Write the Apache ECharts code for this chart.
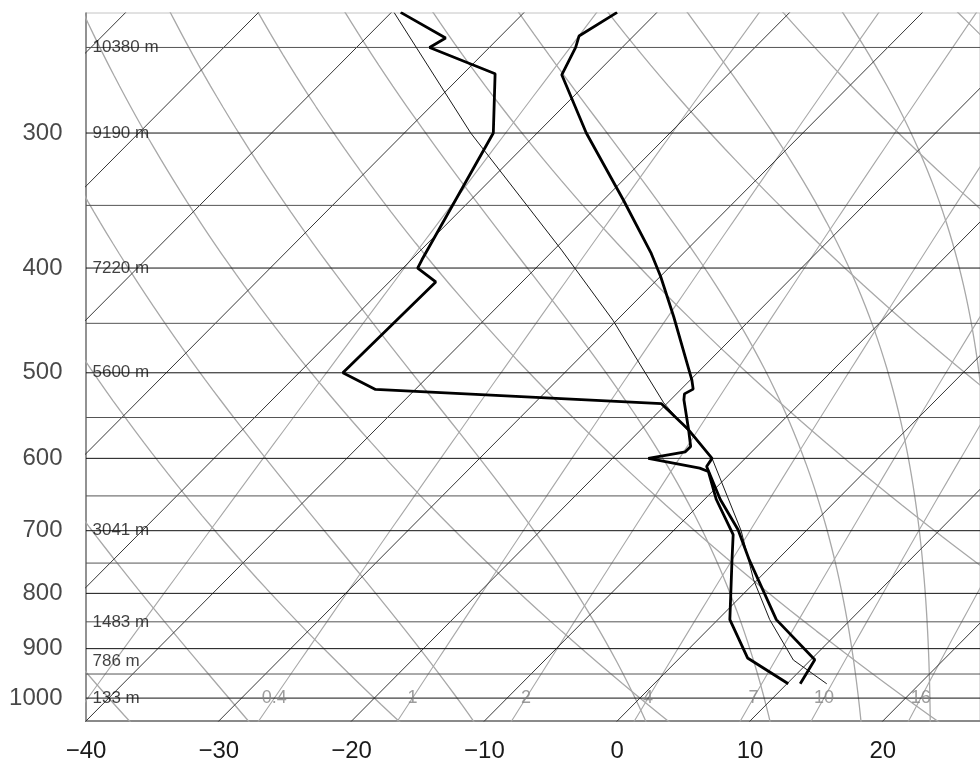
<!DOCTYPE html>
<html><head><meta charset="utf-8">
<script src="https://cdn.jsdelivr.net/npm/echarts@6/dist/echarts.min.js"></script>
<style>html,body{margin:0;padding:0;background:#fff}#chart{width:980px;height:763px}</style>
</head><body><div id="chart"></div>
<script>
// ---- Sounding data (pressure hPa, temperature °C) ----
const tempP = [232, 244, 250, 265, 300, 346, 387, 407, 443.5, 507.5, 517.7, 523, 529.6, 564.6, 600, 610.5, 655, 698.6, 745, 846, 921.6, 970];
const tempT = [-53.0, -54.1, -53.5, -52.5, -46.3, -38.5, -32.5, -30.0, -26.0, -19.9, -19.1, -19.4, -19.0, -16.4, -12.5, -12.3, -8.8, -5.2, -2.1, 4.4, 10.3, 11.0];
const dewP = [232, 245, 250, 264.4, 300, 393, 400, 412, 500, 518, 534, 564.6, 585, 591.7, 600, 612.6, 617, 655, 706, 745, 846, 918, 970];
const dewT = [-69.3, -64.0, -64.5, -57.6, -53.3, -49.2, -48.9, -46.5, -46.7, -43.0, -20.4, -16.4, -15.0, -15.0, -17.3, -12.7, -11.8, -9.1, -5.2, -3.4, 0.9, 5.1, 10.1];
const parcelP = [970, 922, 846, 777, 700, 600, 533, 447, 385, 300, 232];
const parcelT = [13.0, 8.7, 3.9, -0.3, -4.9, -12.5, -20.3, -30.3, -39.4, -55.0, -69.8];

// ---- Axis ticks / labels ----
const pressureTicks = [300, 400, 500, 600, 700, 800, 900, 1000];
const pressureLines = [250, 300, 350, 400, 450, 500, 550, 600, 650, 700, 750, 800, 850, 900, 950, 1000];
const heightP = [250, 300, 400, 500, 700, 850, 925, 1000];
const heightText = ['10380 m', '9190 m', '7220 m', '5600 m', '3041 m', '1483 m', '786 m', '133 m'];

// ---- Background reference lines ----
const isotherms = [-90, -80, -70, -60, -50, -40, -30, -20, -10, 0, 10, 20];
const dryThetaC = [-40, -20, 0, 20, 40, 60, 80, 100];
const moistThetaE = [243, 263, 283, 303, 323, 343, 363];
const mixRatios = [0.1, 0.4, 1, 2, 4, 7, 10, 16, 24, 32];
const mixLabels = [0.4, 1, 2, 4, 7, 10, 16];

const FONT = 'Liberation Sans, Arial, sans-serif';
const K = 35.1, P0 = 1050;
const XMIN = -40, XMAX = -40 + 894 / 13.28;
const PTOP = 232.3, PBOT = 1050;
const skewX = (t, p) => t + K * Math.log(P0 / p);

function logLevels(pTop, pBot, n) { const a = []; for (let i = 0; i <= n; i++) a.push(pBot * Math.pow(pTop / pBot, i / n)); return a; }
const levels = logLevels(222, 1060, 70);

function es(t) { return 6.112 * Math.exp(17.67 * t / (t + 243.5)); }
function thetaE(t, p) { const e = es(t); const r = 622 * e / (p - e); const tk = t + 273.15;
  return tk * Math.pow(1000 / p, 0.2854 * (1 - 0.00028 * r)) * Math.exp((3.376 / tk - 0.00254) * r * (1 + 0.00081 * r)); }
function moistT(te, p) { let lo = -140, hi = 45; for (let i = 0; i < 60; i++) { const m = (lo + hi) / 2; if (thetaE(m, p) > te) hi = m; else lo = m; } return (lo + hi) / 2; }
function dryT(thC, p) { return (thC + 273.15) * Math.pow(p / 1000, 0.2857) - 273.15; }
function mixT(w, p) { const e = w * p / (622 + w); const l = Math.log(e / 6.112); return 243.5 * l / (17.67 - l); }

const series = [];
function addLine(data, color, width, z) {
  series.push({ type: 'line', data, symbol: 'none', showSymbol: false, silent: true, animation: false,
    lineStyle: { color, width }, z: z || 2 });
}
dryThetaC.forEach(th => addLine(levels.map(p => [skewX(dryT(th, p), p), p]), '#a8a8a8', 1.3, 1));
moistThetaE.forEach(te => addLine(levels.map(p => [skewX(moistT(te, p), p), p]), '#a8a8a8', 1.3, 1));
mixRatios.forEach(w => addLine(levels.map(p => [skewX(mixT(w, p), p), p]), '#a8a8a8', 1.1, 1));
isotherms.forEach(t => addLine([[skewX(t, 1060), 1060], [skewX(t, 222), 222]], '#383838', 1, 2));
pressureLines.forEach(p => addLine([[XMIN, p], [XMAX, p]], p % 100 === 0 ? '#111' : '#555', 1, 3));

addLine(parcelP.map((p, i) => [skewX(parcelT[i], p), p]), '#1a1a1a', 1, 4);
addLine(dewP.map((p, i) => [skewX(dewT[i], p), p]), '#000', 2.8, 5);
addLine(tempP.map((p, i) => [skewX(tempT[i], p), p]), '#000', 2.8, 5);

function labelSeries(data, label, z) {
  series.push({ type: 'scatter', data, symbolSize: 1, itemStyle: { color: 'rgba(0,0,0,0)' }, clip: false,
    silent: true, animation: false, label: Object.assign({ show: true, fontFamily: FONT }, label), z: z || 10 });
}
labelSeries(pressureTicks.map(p => ({ value: [XMIN, p], label: { formatter: String(p) } })),
  { position: 'left', distance: 23, fontSize: 24, color: '#1a1a1a' });
labelSeries(heightP.map((p, i) => ({ value: [XMIN, p], label: { formatter: heightText[i] } })),
  { position: 'right', distance: 6, fontSize: 17, color: '#111' });
labelSeries(mixLabels.map(w => ({ value: [skewX(mixT(w, 1000), 1000), 1000], label: { formatter: String(w) } })),
  { position: 'inside', fontSize: 18, color: '#858585' }, 6);

const chart = echarts.init(document.getElementById('chart'));
chart.setOption({
  animation: false,
  backgroundColor: '#fff',
  grid: { left: 86, right: 0, top: 13, bottom: 42, show: true, borderColor: '#c4c4c4', borderWidth: 1 },
  xAxis: { type: 'value', min: XMIN, max: XMAX, interval: 10,
    axisLine: { show: true, onZero: false, lineStyle: { color: '#8a8a8a', width: 2 } },
    axisTick: { show: false }, splitLine: { show: false },
    axisLabel: { showMaxLabel: false, fontSize: 24, color: '#1a1a1a', margin: 18, fontFamily: FONT,
      formatter: v => String(v).replace('-', '\u2212') } },
  yAxis: { type: 'log', logBase: 10, inverse: true, min: PTOP, max: PBOT,
    axisLine: { show: true, onZero: false, lineStyle: { color: '#777', width: 1.5 } },
    axisTick: { show: false }, axisLabel: { show: false }, splitLine: { show: false } },
  series
});
</script></body></html>
